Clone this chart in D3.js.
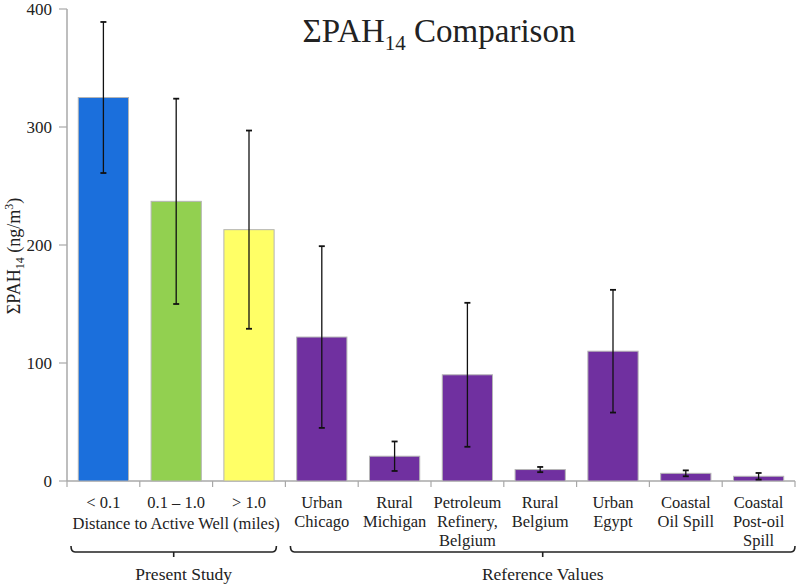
<!DOCTYPE html>
<html><head><meta charset="utf-8">
<script src="https://cdn.jsdelivr.net/npm/d3@7"></script>
<style>body{margin:0;background:#fff}svg{display:block}</style>
</head><body><svg id="c" width="800" height="588" font-family="'Liberation Serif', 'Times New Roman', serif"></svg>
<script>
const categories = [["< 0.1"],["0.1 – 1.0"],["> 1.0"],["Urban","Chicago"],["Rural","Michigan"],["Petroleum","Refinery,","Belgium"],["Rural","Belgium"],["Urban","Egypt"],["Coastal","Oil Spill"],["Coastal","Post-oil","Spill"]];
const catKeys = ["c1","c2","c3","c4","c5","c6","c7","c8","c9","c10"];
const values = [325, 237, 213, 122, 21, 90, 9.7, 110, 6.5, 4];
const errors = [64, 87, 84, 77, 12.5, 61, 2.2, 52, 2.5, 2.8];
const colors = ["#1b6fdc","#92d050","#ffff66","#7030a0","#7030a0","#7030a0","#7030a0","#7030a0","#7030a0","#7030a0"];
const yTicks = [0, 100, 200, 300, 400];
const groups = [{label:"Present Study", from:0, to:2},{label:"Reference Values", from:3, to:9}];

const FF = "'Liberation Serif', 'Times New Roman', serif";
const svg = d3.select("#c");
const x0 = 67, x1 = 795, yTop = 9, yBot = 481;
const x = d3.scaleBand().domain(catKeys).range([x0, x1]).paddingInner(0.31).paddingOuter(0.155);
const y = d3.scaleLinear().domain([0, 400]).range([yBot, yTop]);
const txt = (sel)=>sel.append("text").attr("font-family",FF).attr("fill","#222");

// axes
svg.append("line").attr("x1",x0).attr("x2",x0).attr("y1",yTop).attr("y2",yBot).attr("stroke","#a8a8a8").attr("stroke-width",1.5);
svg.append("line").attr("x1",x0).attr("x2",x1).attr("y1",yBot).attr("y2",yBot).attr("stroke","#a8a8a8").attr("stroke-width",1.5);
yTicks.forEach(t=>{
  svg.append("line").attr("x1",x0-8).attr("x2",x0).attr("y1",y(t)).attr("y2",y(t)).attr("stroke","#a8a8a8").attr("stroke-width",1.2);
  txt(svg).attr("x",x0-15).attr("y",y(t)).attr("dy","0.35em").attr("text-anchor","end").attr("font-size",17).text(t);
});
const step = x.step();
for(let i=0;i<=catKeys.length;i++){
  const bx = x0 + i*step;
  svg.append("line").attr("x1",bx).attr("x2",bx).attr("y1",yBot).attr("y2",yBot+6).attr("stroke","#a8a8a8").attr("stroke-width",1.2);
}

// bars
svg.selectAll("rect.bar").data(values).join("rect").attr("class","bar")
  .attr("x",(d,i)=>x(catKeys[i])).attr("width",x.bandwidth())
  .attr("y",d=>y(d)).attr("height",d=>yBot-y(d))
  .attr("fill",(d,i)=>colors[i]).attr("stroke","#b5b5b5").attr("stroke-width",1);

// error bars
values.forEach((v,i)=>{
  const cx = x(catKeys[i]) + x.bandwidth()/2;
  const g = svg.append("g").attr("stroke","#111").attr("stroke-width",1.3);
  g.append("line").attr("x1",cx).attr("x2",cx).attr("y1",y(v+errors[i])).attr("y2",y(v-errors[i]));
  [v+errors[i], v-errors[i]].forEach(e=>g.append("line").attr("x1",cx-3).attr("x2",cx+3).attr("y1",y(e)).attr("y2",y(e)).attr("stroke-width",1.8));
});

// category labels
categories.forEach((lines,i)=>{
  const cx = x(catKeys[i]) + x.bandwidth()/2;
  lines.forEach((l,j)=>{
    txt(svg).attr("x",cx).attr("y",502+j*19).attr("dy","0.35em").attr("text-anchor","middle").attr("font-size",16.5).text(l);
  });
});
txt(svg).attr("x",(x(catKeys[0])+x(catKeys[2])+x.bandwidth())/2).attr("y",523).attr("dy","0.35em").attr("text-anchor","middle").attr("font-size",16.5).text("Distance to Active Well (miles)");

// brackets
groups.forEach(gr=>{
  const a = gr.from===0 ? 71 : x0 + gr.from*step + 5;
  const b = gr.from===0 ? x0 + 3*step - 9 : x1;
  const yb = 552, r = 4;
  const mid = (a+b)/2;
  const p = d3.path();
  p.moveTo(a, yb-6); p.quadraticCurveTo(a, yb, a+r, yb);
  p.lineTo(b-r, yb); p.quadraticCurveTo(b, yb, b, yb-6);
  svg.append("path").attr("d",p.toString()).attr("fill","none").attr("stroke","#222").attr("stroke-width",1.6);
  svg.append("line").attr("x1",mid).attr("x2",mid).attr("y1",yb).attr("y2",yb+5).attr("stroke","#222").attr("stroke-width",1.6);
  txt(svg).attr("x",mid + (gr.from===0?10:0)).attr("y",574).attr("dy","0.35em").attr("text-anchor","middle").attr("font-size",17.5).text(gr.label);
});

// title
const title = txt(svg).attr("x",439).attr("y",42).attr("text-anchor","middle").attr("font-size",33);
title.append("tspan").text("ΣPAH");
title.append("tspan").attr("font-size",21).attr("dy",8).text("14");
title.append("tspan").attr("dy",-8).text(" Comparison");

// y label
const yl = txt(svg).attr("transform","translate(20,256) rotate(-90)").attr("text-anchor","middle").attr("font-size",18);
yl.append("tspan").text("ΣPAH");
yl.append("tspan").attr("font-size",12).attr("dy",4).text("14");
yl.append("tspan").attr("dy",-4).text(" (ng/m");
yl.append("tspan").attr("font-size",12).attr("dy",-7).text("3");
yl.append("tspan").attr("dy",7).text(")");
</script></body></html>
